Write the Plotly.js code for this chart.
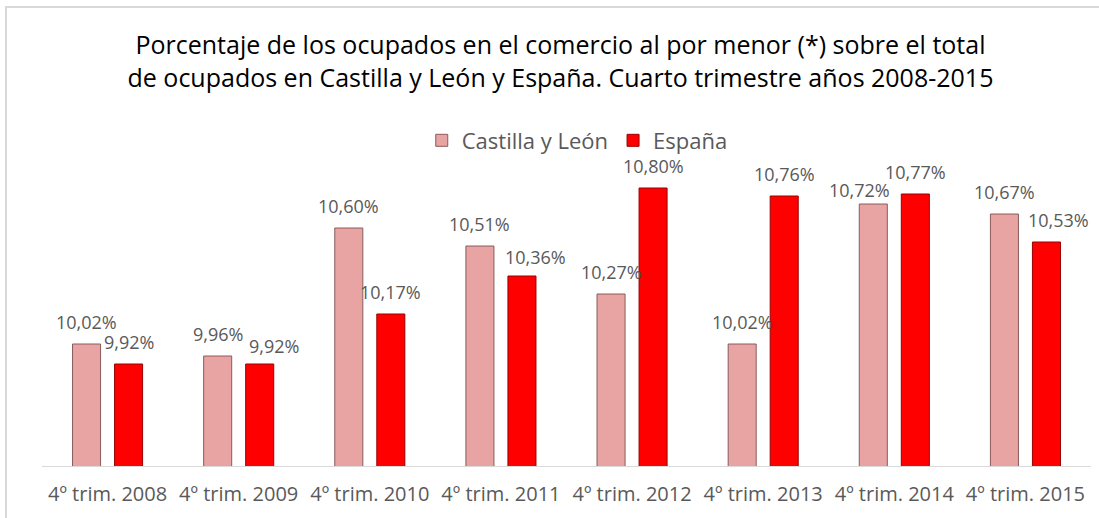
<!DOCTYPE html>
<html>
<head>
<meta charset="utf-8">
<script src="https://cdn.plot.ly/plotly-3.0.1.min.js"></script>
<style>
  html, body { margin: 0; padding: 0; background: #fff; }
  #wrap { position: relative; width: 1099px; height: 518px; overflow: hidden; }
  #chart { width: 1099px; height: 518px; }
  #frame { position: absolute; left: 5px; top: 6px; width: 1110px; height: 530px;
           border: 2px solid #d9d9d9; pointer-events: none; box-sizing: border-box; }
</style>
</head>
<body>
<div id="wrap">
  <div id="chart"></div>
  <div id="frame"></div>
</div>
<script>
// ---- data ----
const categories = ["4º trim. 2008", "4º trim. 2009", "4º trim. 2010", "4º trim. 2011",
                    "4º trim. 2012", "4º trim. 2013", "4º trim. 2014", "4º trim. 2015"];
const castillaLeon = [10.02, 9.96, 10.60, 10.51, 10.27, 10.02, 10.72, 10.67];
const espana       = [9.92, 9.92, 10.17, 10.36, 10.80, 10.76, 10.77, 10.53];
const seriesNames  = ["Castilla y León", "España"];

// ---- styles ----
const colors = ["#E8A3A3", "#FF0000"];
const lineColors = ["#8a5c5c", "#9a0000"];
const labelColor = "#595959";
const fontMain = "'Open Sans', 'Noto Sans', sans-serif";
// label nudges [dx, dy] in px, per series, per category (overlap adjustments)
const labelNudge = [
  [[0,0],[0,0],[0,0],[0,0],[0,0],[0,0],[-14,-8],[0,0]],
  [[0,0],[14,-4],[0,0],[14,-3],[0,0],[0,0],[0,0],[12,0]]
];

const fmt = v => v.toFixed(2).replace('.', ',') + '%';
const allSeries = [castillaLeon, espana];

const traces = allSeries.map((vals, i) => ({
  type: 'bar',
  name: seriesNames[i],
  x: categories,
  y: vals,
  marker: { color: colors[i], line: { color: lineColors[i], width: 1 } },
  hoverinfo: 'x+y+name'
}));

const annotations = [];
const groupOffset = 21;
allSeries.forEach((vals, i) => {
  vals.forEach((v, j) => {
    annotations.push({
      xref: 'x', yref: 'y', x: categories[j], y: v,
      text: fmt(v), showarrow: false,
      xanchor: 'center', yanchor: 'bottom',
      xshift: (i === 0 ? -groupOffset : groupOffset) + labelNudge[i][j][0],
      yshift: 8 + labelNudge[i][j][1],
      font: { family: fontMain, size: 18, color: labelColor }
    });
  });
});

const layout = {
  width: 1099, height: 518,
  margin: { l: 42, r: 8, t: 150, b: 52 },
  paper_bgcolor: '#ffffff', plot_bgcolor: '#ffffff',
  title: {
    text: 'Porcentaje de los ocupados en el comercio al por menor (*) sobre el total<br>de ocupados en Castilla y León y España. Cuarto trimestre años 2008-2015',
    font: { family: fontMain, size: 25, color: '#000000' },
    x: 0.51, xref: 'container', xanchor: 'center',
    y: 0.895, yref: 'container', yanchor: 'top'
  },
  barmode: 'group',
  bargap: 0.359,
  bargroupgap: 0.333,
  showlegend: true,
  legend: {
    orientation: 'h', x: 0.362, xanchor: 'left', y: 1.03, yanchor: 'middle',
    font: { family: fontMain, size: 22, color: labelColor },
    itemclick: false, itemdoubleclick: false, traceorder: 'normal'
  },
  xaxis: {
    type: 'category',
    showline: true, linecolor: '#d9d9d9', linewidth: 1,
    showgrid: false, ticks: '', zeroline: false,
    ticklabelstandoff: 10,
    tickfont: { family: fontMain, size: 20, color: labelColor }
  },
  yaxis: {
    range: [9.41, 10.99], visible: false, showgrid: false, zeroline: false, fixedrange: true
  },
  annotations: annotations
};

Plotly.newPlot('chart', traces, layout, { displayModeBar: false, staticPlot: true });
</script>
</body>
</html>
